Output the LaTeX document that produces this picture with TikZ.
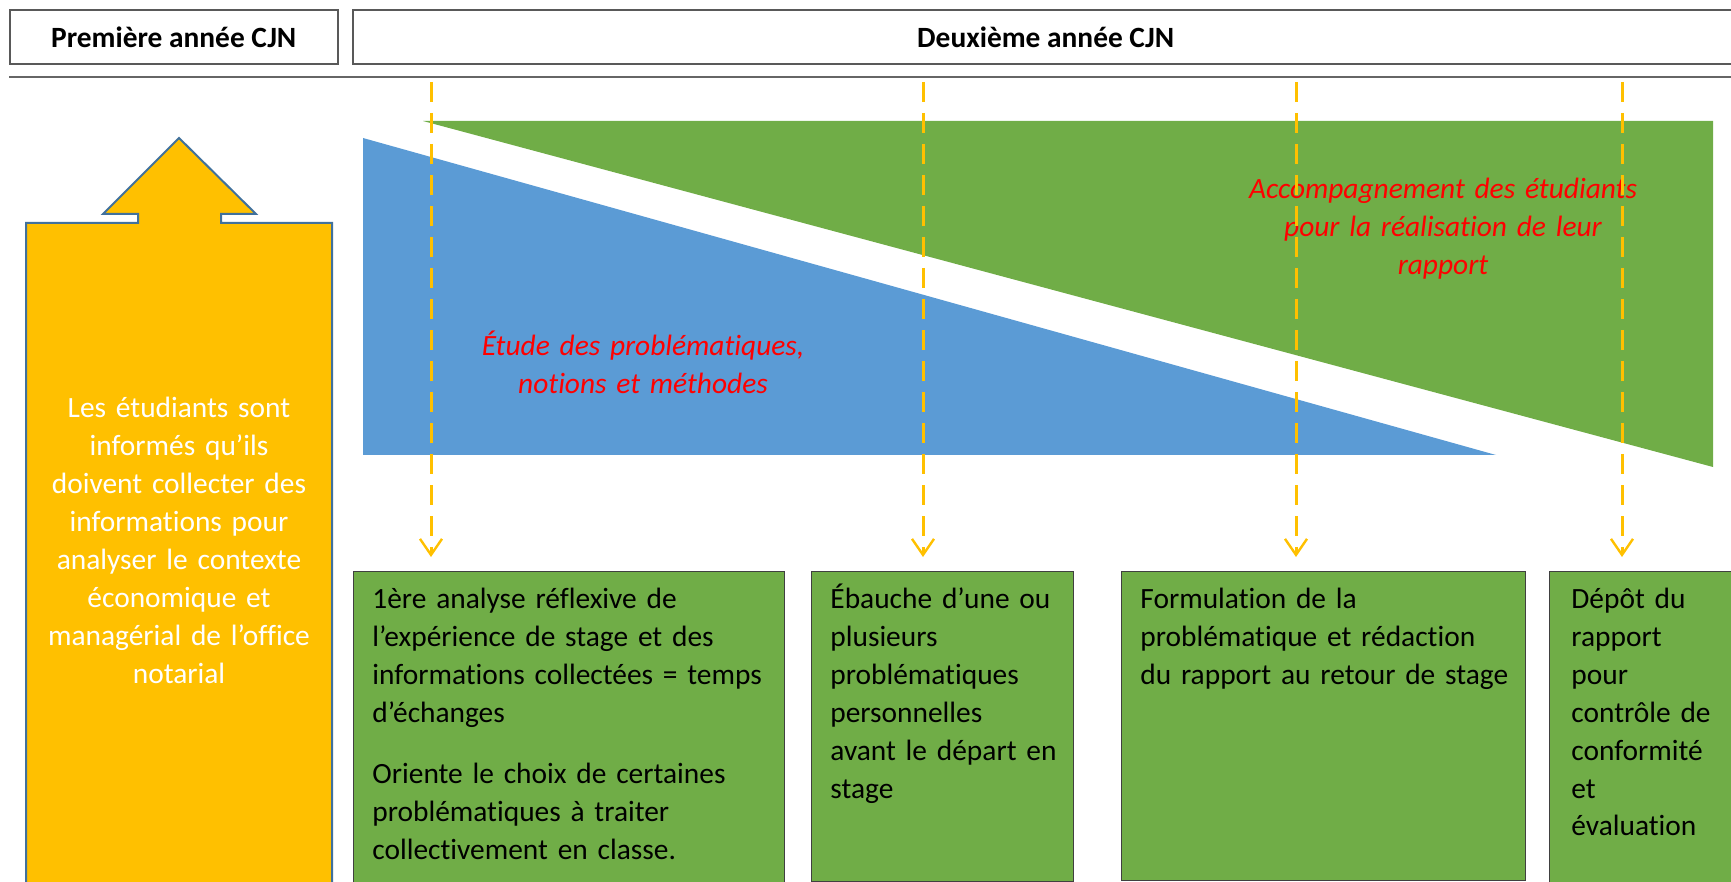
\documentclass[tikz,border=0pt]{standalone}
\usepackage{fontspec}
\setmainfont{Carlito}[Ligatures=NoCommon, Contextuals=NoAlternate, RawFeature={-dlig}]
\usetikzlibrary{arrows.meta}
\definecolor{stepgreen}{HTML}{70AD47}
\definecolor{studyblue}{HTML}{5B9BD5}
\definecolor{infoyellow}{HTML}{FFC000}
\definecolor{arrowline}{HTML}{41719C}
\definecolor{notered}{HTML}{FF0000}

\begin{document}
\begin{tikzpicture}[x=0.5pt, y=-0.5pt,
	every node/.style={font=\fontsize{14.7}{19}\selectfont, inner sep=0pt},
	yearbox/.style={draw=black!65, line width=0.8pt, anchor=north west, minimum height=27pt, font=\fontsize{14.7}{19}\selectfont\bfseries},
	stepbox/.style={draw=black!75, fill=stepgreen, line width=0.7pt, anchor=north west},
	steptext/.style={anchor=base west, align=left, text width=#1},
	notetext/.style={anchor=base, align=center, text=notered, text width=200pt, font=\fontsize{14.7}{19}\selectfont\itshape},
	timeline/.style={draw=infoyellow, line width=1.5pt, dash pattern=on 10pt off 5.5pt, shorten >=7pt, -{Straight Barb[length=8pt, width=11pt, line width=1.2pt]}}]
	\useasboundingbox (0,0) rectangle (1731,882);
	\clip (0,0) rectangle (1731,882);
	\node[yearbox, minimum width=164pt] (first) at (9,9) {Première année CJN};
	\node[yearbox, minimum width=693pt] (second) at (352,9) {Deuxième année CJN};
	\draw[black!60, line width=1.2pt] (9,77) -- (1731,77);

	\filldraw[fill=infoyellow, draw=arrowline, line width=1pt] (179,138) -- (256,214) -- (221,214) -- (221,223) -- (332,223) -- (332,900) -- (26,900) -- (26,223) -- (138,223) -- (138,214) -- (103,214) -- cycle;
	\node[anchor=base, align=center, text=white, text width=150pt] (inform) at (179,418) {Les étudiants sont\\ informés qu’ils\\ doivent collecter des\\ informations pour\\ analyser le contexte\\ économique et\\ managérial de l’office\\ notarial};

	\fill[studyblue] (363,138) -- (1496,455) -- (363,455) -- cycle;
	\fill[stepgreen] (423,121) -- (1713,121) -- (1713,467) -- cycle;
	\node[notetext] (study) at (643,356) {Étude des problématiques,\\ notions et méthodes};
	\node[notetext] (support) at (1443,199) {Accompagnement des étudiants\\ pour la réalisation de leur\\ rapport};

	\node[stepbox, minimum width=215.5pt, minimum height=170pt] (analyse) at (353,571) {};
	\node[stepbox, minimum width=131pt, minimum height=155pt] (ebauche) at (811,571) {};
	\node[stepbox, minimum width=202pt, minimum height=154.5pt] (formulation) at (1121,571) {};
	\node[stepbox, minimum width=100pt, minimum height=170pt] (depot) at (1549,571) {};

	\node[steptext=200pt] (analyseT) at ([shift={(19,37)}]analyse.north west) {1ère analyse réflexive de\\ l’expérience de stage et des\\ informations collectées = temps\\ d’échanges\\[12pt] Oriente le choix de certaines\\ problématiques à traiter\\ collectivement en classe.};
	\node[steptext=120pt] (ebaucheT) at ([shift={(19,37)}]ebauche.north west) {Ébauche d’une ou\\ plusieurs\\ problématiques\\ personnelles\\ avant le départ en\\ stage};
	\node[steptext=190pt] (formulationT) at ([shift={(19,37)}]formulation.north west) {Formulation de la\\ problématique et rédaction\\ du rapport au retour de stage};
	\node[steptext=90pt] (depotT) at ([shift={(22,37)}]depot.north west) {Dépôt du\\ rapport\\ pour\\ contrôle de\\ conformité\\ et\\ évaluation};

	\coordinate (t1) at (431,82);
	\coordinate (t2) at (923,82);
	\coordinate (t3) at (1296,82);
	\coordinate (t4) at (1622,82);
	\draw[timeline] (t1) -- (t1 |- analyse.north);
	\draw[timeline] (t2) -- (t2 |- ebauche.north);
	\draw[timeline] (t3) -- (t3 |- formulation.north);
	\draw[timeline] (t4) -- (t4 |- depot.north);
\end{tikzpicture}
\end{document}
